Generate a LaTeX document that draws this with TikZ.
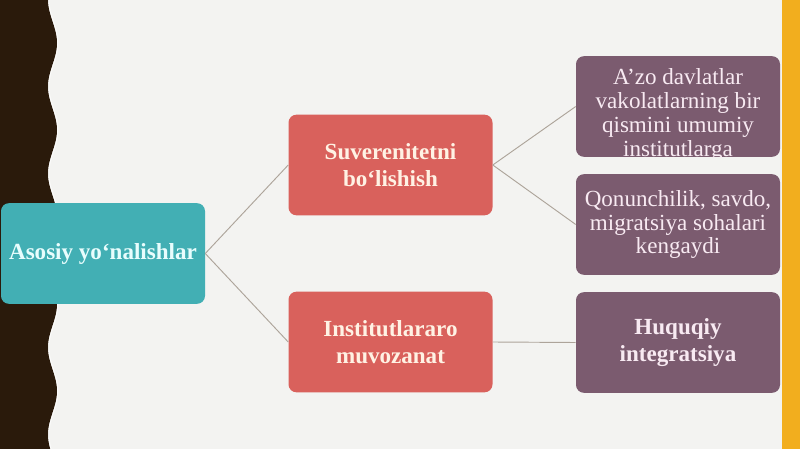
\documentclass[tikz,border=0pt]{standalone}
\usepackage{fontspec}
\setmainfont{Liberation Serif}
\definecolor{bgc}{HTML}{F3F3F1}
\definecolor{brownc}{HTML}{2A1A0B}
\definecolor{orangec}{HTML}{F2AE1E}
\definecolor{tealc}{HTML}{42AFB4}
\definecolor{redc}{HTML}{D9615C}
\definecolor{purplec}{HTML}{7B5B6F}
\definecolor{linec}{HTML}{ADA49A}
\definecolor{tealtxt}{HTML}{E8FDFD}
\definecolor{redtxt}{HTML}{FFF2E4}
\definecolor{purtxt}{HTML}{F8EAF2}
\tikzset{
  boxbase/.style={rounded corners=6pt, minimum width=153pt, minimum height=75.5pt, inner sep=2pt, align=center},
  tealbox/.style={boxbase, fill=tealc, text=tealtxt, font=\bfseries\fontsize{17.3}{20}\selectfont},
  redbox/.style={boxbase, fill=redc, text=redtxt, font=\bfseries\fontsize{17.3}{20}\selectfont},
  purbox/.style={boxbase, fill=purplec, text=purtxt, font=\fontsize{17.3}{17.8}\selectfont},
  purboldbox/.style={boxbase, fill=purplec, text=purtxt, font=\bfseries\fontsize{17.3}{19.6}\selectfont},
  link/.style={draw=linec, line width=0.7pt}
}
\begin{document}
\begin{tikzpicture}[x=0.75pt, y=-0.75pt]
\useasboundingbox (0,0) rectangle (800,449);
\fill[bgc] (0,0) rectangle (800,449);
% left wavy strip
\fill[brownc] (0,0) -- plot[domain=0:449, samples=220, variable=\t] ({52.5+4.5*cos(4.138*(\t-43))}, \t) -- (0,449) -- cycle;
\draw[white, line width=0.8pt, opacity=0.7] plot[domain=0:449, samples=220, variable=\t] ({53.3+4.5*cos(4.138*(\t-43))}, \t);
% right strip
\fill[orangec] (782,0) rectangle (800,449);

% nodes
\node[tealbox] (root) at (103,253.5) {Asosiy yo‘nalishlar};
\node[redbox] (s1) at (390.5,165) {Suverenitetni\\bo‘lishish};
\node[redbox] (s2) at (390.5,342) {Institutlararo\\muvozanat};
\node[purbox] (p1) at (678,106.5) {};
\node[purbox] (p2) at (678,224.5) {Qonunchilik, savdo,\\migratsiya sohalari\\kengaydi};
\node[purboldbox] (p3) at (678,342.5) {Huquqiy\\integratsiya};
\begin{scope}
  \clip (p1.south west) rectangle (p1.north east);
  \node[purbox, fill=none] (p1t) at (678,115) {A’zo davlatlar\\vakolatlarning bir\\qismini umumiy\\institutlarga};
\end{scope}

% connectors
\draw[link] (root.east) -- (s1.west);
\draw[link] (root.east) -- (s2.west);
\draw[link] (s1.east) -- (p1.west);
\draw[link] (s1.east) -- (p2.west);
\draw[link] (s2.east) -- (p3.west);
\end{tikzpicture}
\end{document}
